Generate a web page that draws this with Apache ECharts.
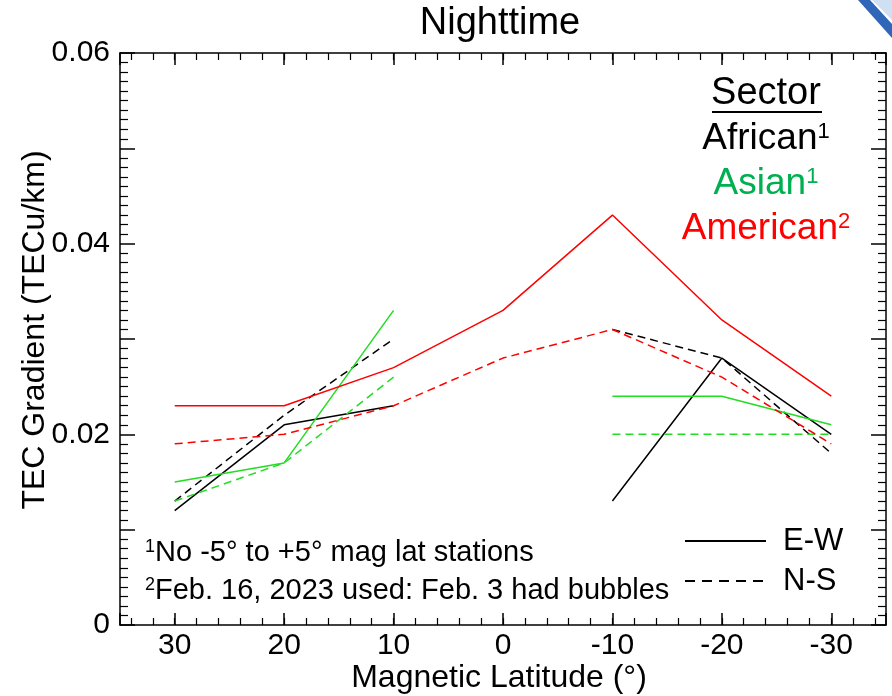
<!DOCTYPE html>
<html>
<head>
<meta charset="utf-8">
<script src="https://cdn.jsdelivr.net/npm/echarts@6/dist/echarts.min.js"></script>
<style>
  html, body { margin: 0; padding: 0; background: #fff; }
  #main { width: 892px; height: 696px; }
</style>
</head>
<body>
<div id="main"></div>
<script>
// magnetic latitude of each station group (deg)
var lat = [30, 20, 10, 0, -10, -20, -30];
// TEC gradient (TECu/km), null = no stations
var africanEW = [0.012, 0.021, 0.023, null, 0.013, 0.028, 0.020];
var africanNS = [0.013, 0.022, 0.030, null, 0.031, 0.028, 0.018];
var asianEW = [0.015, 0.017, 0.033, null, 0.024, 0.024, 0.021];
var asianNS = [0.013, 0.017, 0.026, null, 0.020, 0.020, 0.020];
var americanEW = [0.023, 0.023, 0.027, 0.033, 0.043, 0.032, 0.024];
var americanNS = [0.019, 0.020, 0.023, 0.028, 0.031, 0.026, 0.019];
var yTickLabels = ['0', '0.02', '0.04', '0.06'];

var FONT = '"Liberation Sans", Arial, sans-serif';
var BLACK = '#000000', GREEN = '#22dd22', RED = '#ff0000', GREEN_TXT = '#00b050';

function pairs(vals) {
    return lat.map(function (x, i) {
        return [x, vals[i] === null ? '-' : vals[i]];
    });
}

function line(name, vals, color, dashed) {
    return {
        name: name,
        type: 'line',
        xAxisIndex: 0,
        yAxisIndex: 0,
        data: pairs(vals),
        symbol: 'none',
        connectNulls: false,
        lineStyle: {color: color, width: 1.5, type: dashed ? [8, 5] : 'solid'},
        itemStyle: {color: color}
    };
}

var myChart = echarts.init(document.getElementById('main'), null, {renderer: 'canvas'});

var majorX = {
    type: 'value', gridIndex: 0, min: -35, max: 35, splitNumber: 7, inverse: true,
    axisLine: {show: true, onZero: false, lineStyle: {color: BLACK, width: 1.5}},
    axisTick: {show: true, inside: true, length: 12, lineStyle: {color: BLACK, width: 1.5}},
    splitLine: {show: false}
};
var majorY = {
    type: 'value', gridIndex: 0, min: 0, max: 0.06, interval: 0.01,
    axisLine: {show: true, onZero: false, lineStyle: {color: BLACK, width: 1.5}},
    axisTick: {show: true, inside: true, length: 15, lineStyle: {color: BLACK, width: 1.5}},
    minorTick: {show: true, splitNumber: 10, length: 8, lineStyle: {color: BLACK, width: 1.2}},
    splitLine: {show: false}
};
// short ticks every 2 deg, drawn on a second grid so they start inside the frame
var minorX = {
    type: 'value', gridIndex: 1, min: -34, max: 34, interval: 2, inverse: true,
    axisLine: {show: false, onZero: false},
    axisTick: {show: true, inside: true, length: 7, lineStyle: {color: BLACK, width: 1.2}},
    axisLabel: {show: false},
    splitLine: {show: false}
};

option = {
    backgroundColor: '#ffffff',
    animation: false,
    grid: [
        {left: 120, right: 6, top: 53, bottom: 71},
        {left: 120 + 766 / 70, right: 6 + 766 / 70, top: 53, bottom: 71}
    ],
    xAxis: [
        Object.assign({}, majorX, {
            position: 'bottom',
            axisLabel: {
                show: true, margin: 6, color: BLACK, fontSize: 30, fontFamily: FONT,
                formatter: function (v) { return Math.abs(v) > 30 ? '' : String(v); }
            }
        }),
        Object.assign({}, majorX, {position: 'top', axisLabel: {show: false}}),
        Object.assign({}, minorX, {position: 'bottom'}),
        Object.assign({}, minorX, {position: 'top'})
    ],
    yAxis: [
        Object.assign({}, majorY, {
            position: 'left',
            axisLabel: {
                show: true, margin: 10, color: BLACK, fontSize: 30, fontFamily: FONT,
                formatter: function (v) {
                    var k = Math.round(v * 100);
                    return k % 2 === 0 ? yTickLabels[k / 2] : '';
                }
            }
        }),
        Object.assign({}, majorY, {position: 'right', axisLabel: {show: false}}),
        {type: 'value', gridIndex: 1, min: 0, max: 1, show: false}
    ],
    series: [
        line('African E-W', africanEW, BLACK, false),
        line('African N-S', africanNS, BLACK, true),
        line('Asian E-W', asianEW, GREEN, false),
        line('Asian N-S', asianNS, GREEN, true),
        line('American E-W', americanEW, RED, false),
        line('American N-S', americanNS, RED, true)
    ],
    graphic: [
        // title
        {type: 'text', x: 500, y: 24, style: {text: 'Nighttime', fill: BLACK, font: '38px ' + FONT, textAlign: 'center', textVerticalAlign: 'middle'}},
        // axis names
        {type: 'text', x: 35, y: 330, rotation: Math.PI / 2, style: {text: 'TEC Gradient (TECu/km)', fill: BLACK, font: '32px ' + FONT, textAlign: 'center', textVerticalAlign: 'middle'}},
        {type: 'text', x: 499, y: 678, style: {text: 'Magnetic Latitude (°)', fill: BLACK, font: '32px ' + FONT, textAlign: 'center', textVerticalAlign: 'middle'}},
        // sector legend
        {type: 'text', x: 766, y: 94, style: {text: 'Sector', fill: BLACK, font: '38px ' + FONT, textAlign: 'center', textVerticalAlign: 'middle'}},
        {type: 'line', shape: {x1: 712, y1: 112, x2: 822, y2: 112}, style: {stroke: BLACK, lineWidth: 2}},
        {type: 'text', x: 766, y: 139, style: {
            text: '{a|African}{s|1}', textAlign: 'center', textVerticalAlign: 'middle',
            rich: {a: {fontSize: 37, fontFamily: FONT, fill: BLACK, color: BLACK}, s: {fontSize: 22, fontFamily: FONT, fill: BLACK, color: BLACK, verticalAlign: 'top'}}
        }},
        {type: 'text', x: 766, y: 184, style: {
            text: '{a|Asian}{s|1}', textAlign: 'center', textVerticalAlign: 'middle',
            rich: {a: {fontSize: 37, fontFamily: FONT, fill: GREEN_TXT, color: GREEN_TXT}, s: {fontSize: 22, fontFamily: FONT, fill: GREEN_TXT, color: GREEN_TXT, verticalAlign: 'top'}}
        }},
        {type: 'text', x: 766, y: 229, style: {
            text: '{a|American}{s|2}', textAlign: 'center', textVerticalAlign: 'middle',
            rich: {a: {fontSize: 37, fontFamily: FONT, fill: RED, color: RED}, s: {fontSize: 22, fontFamily: FONT, fill: RED, color: RED, verticalAlign: 'top'}}
        }},
        // footnotes
        {type: 'text', x: 145, y: 553, style: {
            text: '{s|1}{a|No -5° to +5° mag lat stations}', textAlign: 'left', textVerticalAlign: 'middle',
            rich: {a: {fontSize: 29, fontFamily: FONT, fill: BLACK, color: BLACK}, s: {fontSize: 18, fontFamily: FONT, fill: BLACK, color: BLACK, verticalAlign: 'top'}}
        }},
        {type: 'text', x: 145, y: 591, style: {
            text: '{s|2}{a|Feb. 16, 2023 used: Feb. 3 had bubbles}', textAlign: 'left', textVerticalAlign: 'middle',
            rich: {a: {fontSize: 29, fontFamily: FONT, fill: BLACK, color: BLACK}, s: {fontSize: 18, fontFamily: FONT, fill: BLACK, color: BLACK, verticalAlign: 'top'}}
        }},
        // line style legend
        {type: 'line', shape: {x1: 685, y1: 541, x2: 766, y2: 541}, style: {stroke: BLACK, lineWidth: 2}},
        {type: 'text', x: 783, y: 541, style: {text: 'E-W', fill: BLACK, font: '31px ' + FONT, textAlign: 'left', textVerticalAlign: 'middle'}},
        {type: 'line', shape: {x1: 685, y1: 581, x2: 766, y2: 581}, style: {stroke: BLACK, lineWidth: 2, lineDash: [10, 7]}},
        {type: 'text', x: 783, y: 581, style: {text: 'N-S', fill: BLACK, font: '31px ' + FONT, textAlign: 'left', textVerticalAlign: 'middle'}},
        // corner of the logo
        {type: 'polygon', shape: {points: [[858, 0], [870, 0], [892, 24], [892, 38]]}, style: {fill: '#2f66b8'}},
        {type: 'polygon', shape: {points: [[872, 0], [892, 0], [892, 20]]}, style: {fill: '#cfe0f2'}}
    ]
};

myChart.setOption(option);
</script>
</body>
</html>
